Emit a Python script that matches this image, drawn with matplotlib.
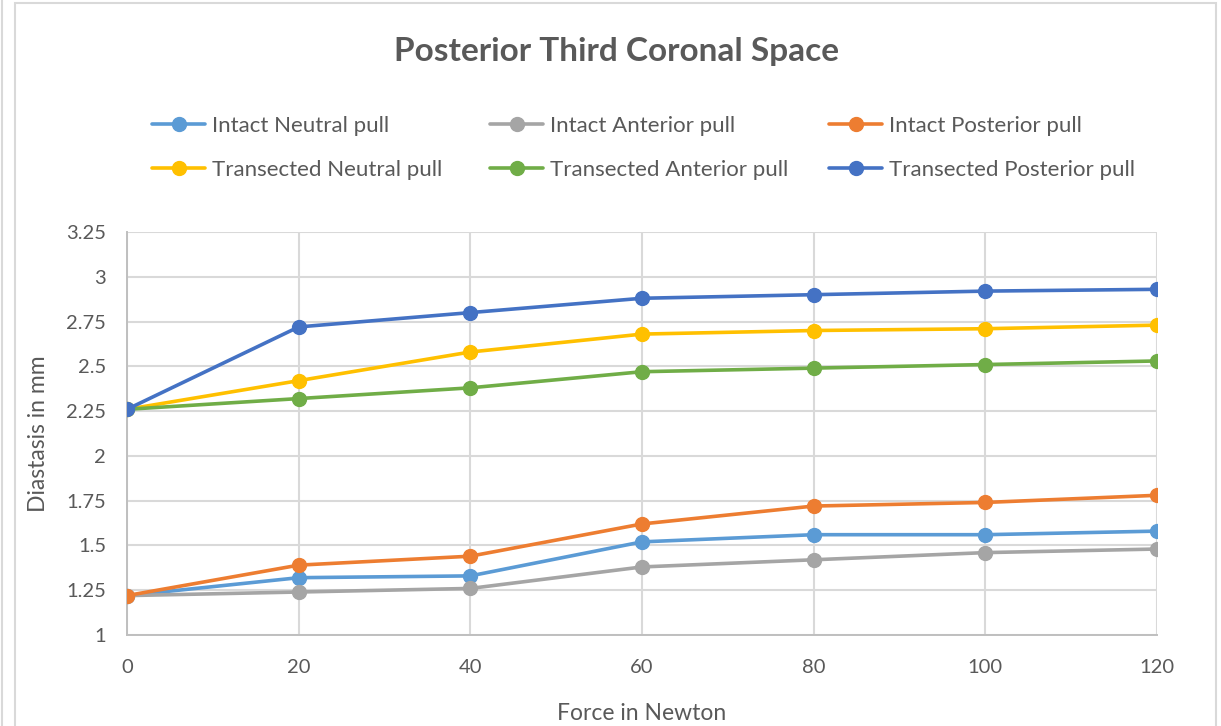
import matplotlib
matplotlib.use("Agg")
import matplotlib.pyplot as plt
from matplotlib.patches import Rectangle
from matplotlib.lines import Line2D
from matplotlib.ticker import FuncFormatter

plt.rcParams['font.family'] = ['Lato', 'DejaVu Sans']

# data
force = [0, 20, 40, 60, 80, 100, 120]
intact_neutral = [1.22, 1.32, 1.33, 1.52, 1.56, 1.56, 1.58]
intact_anterior = [1.22, 1.24, 1.26, 1.38, 1.42, 1.46, 1.48]
intact_posterior = [1.22, 1.39, 1.44, 1.62, 1.72, 1.74, 1.78]
trans_neutral = [2.26, 2.42, 2.58, 2.68, 2.70, 2.71, 2.73]
trans_anterior = [2.26, 2.32, 2.38, 2.47, 2.49, 2.51, 2.53]
trans_posterior = [2.26, 2.72, 2.80, 2.88, 2.90, 2.92, 2.93]

names = ["Intact Neutral pull", "Intact Anterior pull", "Intact Posterior pull",
         "Transected Neutral pull", "Transected Anterior pull", "Transected Posterior pull"]
series = [intact_neutral, intact_anterior, intact_posterior,
          trans_neutral, trans_anterior, trans_posterior]
colors = ["#5B9BD5", "#A5A5A5", "#ED7D31", "#FFC000", "#70AD47", "#4472C4"]
yticks = [1, 1.25, 1.5, 1.75, 2, 2.25, 2.5, 2.75, 3, 3.25]

txt = "#595959"
W, H = 1221, 726
fig = plt.figure(figsize=(W / 100, H / 100), dpi=100)
ax = fig.add_axes([127 / W, 1 - 635 / H, (1157 - 127) / W, (635 - 232) / H])

lines = []
for vals, name, c in zip(series, names, colors):
    ln, = ax.plot(force, vals, color=c, lw=2.6, marker='o', ms=10, label=name,
                  solid_capstyle='round', zorder=3)
    lines.append(ln)

ax.set_xlim(0, 120)
ax.set_ylim(1, 3.25)
ax.set_xticks(force)
ax.set_yticks(yticks)
ax.yaxis.set_major_formatter(FuncFormatter(lambda v, p: "%g" % v))
ax.grid(True, color="#d9d9d9", lw=1.5, zorder=0)
ax.tick_params(axis='both', colors=txt, labelsize=14.5, length=0)
ax.tick_params(axis='y', pad=15)
ax.tick_params(axis='x', pad=17)
for s in ["top", "right"]:
    ax.spines[s].set_visible(False)
for s in ["left", "bottom"]:
    ax.spines[s].set_color("#bfbfbf")
    ax.spines[s].set_linewidth(1.4)

ax.set_xlabel("Force in Newton", fontsize=16.5, color=txt, labelpad=20)
ax.set_ylabel("Diastasis in mm", fontsize=16.5, color=txt, labelpad=12)

fig.text(0.505, 1 - 51 / H, "Posterior Third Coronal Space", ha='center', va='center',
         fontsize=24, fontweight='bold', color=txt)

# one small legend per column so the columns sit at fixed positions like Excel's
col_x = [152, 490, 829]
for j in range(3):
    idx = [j, j + 3]
    fig.legend([lines[i] for i in idx], [names[i] for i in idx], ncol=1,
               loc='center left', bbox_to_anchor=(col_x[j] / W, 1 - 148 / H),
               frameon=False, fontsize=16, handlelength=2.4, handletextpad=0.3,
               labelspacing=1.1, borderpad=0, borderaxespad=0, labelcolor=txt)

fig.patches.append(Rectangle((15 / W, -0.01), (1216 - 15) / W, 1.01 - 3 / H,
                             transform=fig.transFigure, fill=False,
                             edgecolor="#d9d9d9", lw=1.5))
fig.lines.append(Line2D([2 / W, 2 / W], [0, 1], transform=fig.transFigure,
                        color="#d9d9d9", lw=1.5))

fig.savefig("out.png", dpi=100)
